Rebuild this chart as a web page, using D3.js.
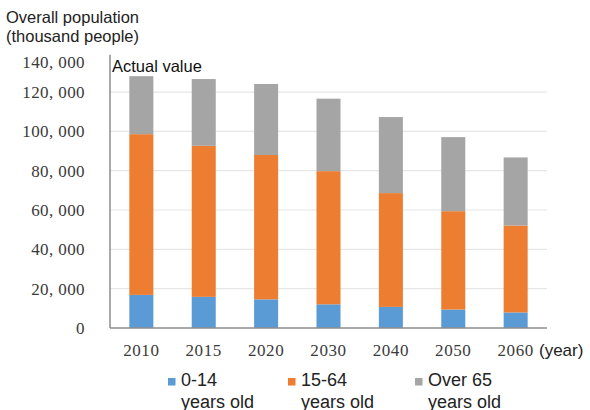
<!DOCTYPE html>
<html>
<head>
<script src="https://cdn.jsdelivr.net/npm/d3@7"></script>
<style>
body { margin: 0; background: #fff; }
</style>
</head>
<body>
<script>

// population (thousand people), actual 2010 then projections
var years = ["2010", "2015", "2020", "2030", "2040", "2050", "2060"]
var age0to14 = [16839, 15827, 14568, 12039, 10732, 9387, 7912]
var age15to64 = [81735, 76818, 73408, 67730, 57866, 50013, 44183]
var age65plus = [29484, 33952, 36124, 36849, 38678, 37676, 34642]
var seriesNames = ["0-14", "15-64", "Over 65"]
var seriesColors = ["#5b9bd5", "#ed7d31", "#a5a5a5"]
var yTicks = [0, 20000, 40000, 60000, 80000, 100000, 120000, 140000]

var width = 590, height = 410
// note: "top" is a read-only window global, so plot edges get their own names
var plotLeft = 110, plotRight = 547, plotTop = 52.7, plotBottom = 328

var svg = d3.select("body").append("svg")
    .attr("width", width)
    .attr("height", height)

var x = d3.scaleBand().domain(years).range([plotLeft, plotRight]).paddingInner(0.615).paddingOuter(0.31)
var y = d3.scaleLinear().domain([0, 140000]).range([plotBottom, plotTop])

var rows = years.map(function(yr, i) {
  return { year: yr, a: age0to14[i], b: age15to64[i], c: age65plus[i] }
})
var stack = d3.stack().keys(["a", "b", "c"])(rows)

// gridlines
svg.append("g").selectAll("line")
   .data(yTicks.filter(function(t) { return t > 0 && t < 140000 }))
   .enter().append("line")
   .attr("x1", plotLeft).attr("x2", plotRight)
   .attr("y1", function(d) { return y(d) }).attr("y2", function(d) { return y(d) })
   .style("stroke", "#e6e6e6").style("stroke-width", 1.2)

// bars
svg.append("g").selectAll("g")
   .data(stack).enter().append("g")
   .style("fill", function(d, i) { return seriesColors[i] })
   .selectAll("rect")
   .data(function(d) { return d }).enter().append("rect")
   .attr("x", function(d) { return x(d.data.year) })
   .attr("width", x.bandwidth())
   .attr("y", function(d) { return y(d[1]) })
   .attr("height", function(d) { return y(d[0]) - y(d[1]) })

// axes lines
svg.append("line").attr("x1", plotLeft).attr("x2", plotLeft).attr("y1", plotTop + 2).attr("y2", plotBottom)
   .style("stroke", "#8c8c8c").style("stroke-width", 1.5)
svg.append("line").attr("x1", plotLeft).attr("x2", plotRight).attr("y1", plotBottom).attr("y2", plotBottom)
   .style("stroke", "#8c8c8c").style("stroke-width", 1.5)

var fmt = function(v) { return d3.format(",")(v).replace(/,/g, ", ") }

// y tick labels
svg.append("g").selectAll("text")
   .data(yTicks).enter().append("text")
   .attr("x", 85)
   .attr("y", function(d) { return y(d) + (d == 140000 ? 9 : 0) })
   .attr("dy", "0.35em")
   .attr("text-anchor", "end")
   .style("font-family", "Liberation Serif, serif")
   .style("font-size", "17px")
   .style("letter-spacing", "0.4px")
   .style("fill", "#3a3a3a")
   .text(fmt)

// x tick labels
svg.append("g").selectAll("text")
   .data(years).enter().append("text")
   .attr("x", function(d) { return x(d) + x.bandwidth() / 2 })
   .attr("y", 356)
   .attr("text-anchor", "middle")
   .style("font-family", "Liberation Serif, serif")
   .style("font-size", "17px")
   .style("letter-spacing", "0.6px")
   .style("fill", "#3a3a3a")
   .text(function(d) { return d })

var sans = "Liberation Sans, Arial, sans-serif"

svg.append("text").attr("x", 539).attr("y", 356)
   .style("font-family", sans).style("font-size", "17px").style("fill", "#222")
   .text("(year)")

svg.append("text").attr("x", 6).attr("y", 23)
   .style("font-family", sans).style("font-size", "16.5px").style("fill", "#222")
   .text("Overall population")
svg.append("text").attr("x", 6).attr("y", 42)
   .style("font-family", sans).style("font-size", "16.5px").style("fill", "#222")
   .text("(thousand people)")

svg.append("text").attr("x", 112).attr("y", 72)
   .style("font-family", sans).style("font-size", "16.5px").style("fill", "#111")
   .text("Actual value")

// legend
var legendX = [168, 288, 415]
var legend = svg.append("g").selectAll("g")
   .data(seriesNames).enter().append("g")
   .attr("transform", function(d, i) { return "translate(" + legendX[i] + ",0)" })

legend.append("rect")
   .attr("x", 0).attr("y", 378).attr("width", 7.5).attr("height", 7.5)
   .style("fill", function(d, i) { return seriesColors[i] })
legend.append("text")
   .attr("x", 13).attr("y", 386)
   .style("font-family", sans).style("font-size", "18px").style("fill", "#222")
   .text(function(d) { return d })
legend.append("text")
   .attr("x", 13).attr("y", 408)
   .style("font-family", sans).style("font-size", "18px").style("fill", "#222")
   .text("years old")

</script>
</body>
</html>
